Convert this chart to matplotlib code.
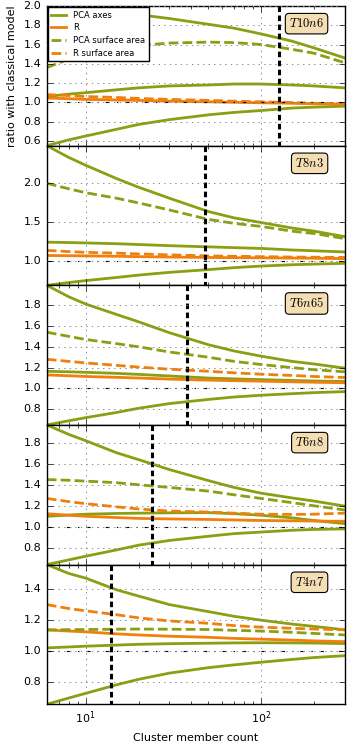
import numpy as np
import matplotlib
matplotlib.use('Agg')
import matplotlib.pyplot as plt
from matplotlib.ticker import MultipleLocator

plt.style.use('classic')
plt.rcParams['figure.facecolor'] = 'white'
plt.rcParams['savefig.facecolor'] = 'white'
plt.rcParams['font.size'] = 8
plt.rcParams['lines.scale_dashes'] = False

# cluster member count sample points
counts = [6, 8, 10, 15, 20, 30, 50, 70, 100, 150, 200, 300]

# one entry per panel: labels, vertical marker position
panel_labels = ['T10n6', 'T8n3', 'T6n65', 'T6n8', 'T4n7']
marker_counts = [127, 48, 38, 24, 14]

# PCA axes ratios (upper, middle, lower) per panel
pca_upper = [
    [2.00, 1.99, 1.98, 1.95, 1.91, 1.87, 1.81, 1.77, 1.71, 1.635, 1.565, 1.46],
    [2.47, 2.32, 2.22, 2.05, 1.94, 1.80, 1.63, 1.55, 1.49, 1.42, 1.38, 1.31],
    [1.99, 1.88, 1.81, 1.71, 1.64, 1.535, 1.42, 1.36, 1.31, 1.26, 1.235, 1.195],
    [1.97, 1.88, 1.82, 1.705, 1.64, 1.545, 1.44, 1.375, 1.32, 1.275, 1.245, 1.197],
    [1.557, 1.50, 1.47, 1.395, 1.355, 1.30, 1.255, 1.225, 1.20, 1.175, 1.16, 1.138],
]
pca_middle = [
    [1.06, 1.085, 1.10, 1.13, 1.15, 1.17, 1.18, 1.19, 1.19, 1.18, 1.17, 1.15],
    [1.24, 1.235, 1.23, 1.22, 1.21, 1.195, 1.18, 1.17, 1.16, 1.14, 1.13, 1.115],
    [1.165, 1.16, 1.155, 1.145, 1.135, 1.12, 1.10, 1.092, 1.085, 1.077, 1.072, 1.067],
    [1.10, 1.112, 1.12, 1.127, 1.13, 1.133, 1.135, 1.125, 1.11, 1.085, 1.06, 1.03],
    [1.022, 1.028, 1.033, 1.04, 1.045, 1.049, 1.052, 1.054, 1.055, 1.054, 1.053, 1.05],
]
pca_lower = [
    [0.55, 0.61, 0.65, 0.72, 0.77, 0.82, 0.87, 0.895, 0.915, 0.94, 0.95, 0.96],
    [0.69, 0.725, 0.75, 0.79, 0.82, 0.855, 0.89, 0.915, 0.935, 0.952, 0.96, 0.97],
    [0.65, 0.69, 0.72, 0.77, 0.81, 0.855, 0.895, 0.918, 0.935, 0.95, 0.96, 0.97],
    [0.64, 0.685, 0.72, 0.78, 0.825, 0.87, 0.91, 0.935, 0.95, 0.967, 0.975, 0.98],
    [0.66, 0.70, 0.73, 0.785, 0.82, 0.86, 0.895, 0.913, 0.93, 0.948, 0.96, 0.972],
]
# radius ratio
r_ratio = [
    [1.045, 1.037, 1.03, 1.024, 1.02, 1.012, 1.005, 1.0, 0.995, 0.99, 0.985, 0.98],
    [1.07, 1.067, 1.065, 1.06, 1.055, 1.05, 1.045, 1.042, 1.04, 1.037, 1.035, 1.03],
    [1.13, 1.122, 1.115, 1.107, 1.10, 1.09, 1.08, 1.075, 1.07, 1.064, 1.06, 1.055],
    [1.125, 1.11, 1.10, 1.088, 1.08, 1.075, 1.07, 1.065, 1.06, 1.057, 1.055, 1.052],
    [1.138, 1.13, 1.125, 1.112, 1.105, 1.097, 1.09, 1.083, 1.078, 1.072, 1.067, 1.062],
]
# surface area ratios
pca_area = [
    [1.36, 1.45, 1.50, 1.56, 1.59, 1.615, 1.625, 1.62, 1.60, 1.55, 1.51, 1.41],
    [1.99, 1.92, 1.87, 1.80, 1.74, 1.65, 1.53, 1.48, 1.44, 1.38, 1.35, 1.285],
    [1.54, 1.50, 1.47, 1.43, 1.40, 1.35, 1.30, 1.26, 1.23, 1.20, 1.18, 1.16],
    [1.45, 1.443, 1.435, 1.42, 1.40, 1.375, 1.34, 1.305, 1.27, 1.23, 1.20, 1.16],
    [1.137, 1.139, 1.14, 1.142, 1.143, 1.142, 1.14, 1.135, 1.13, 1.122, 1.115, 1.105],
]
r_area = [
    [1.08, 1.07, 1.06, 1.05, 1.04, 1.03, 1.02, 1.012, 1.005, 0.997, 0.99, 0.985],
    [1.135, 1.12, 1.11, 1.10, 1.09, 1.078, 1.065, 1.06, 1.055, 1.05, 1.048, 1.045],
    [1.28, 1.26, 1.245, 1.222, 1.205, 1.185, 1.165, 1.15, 1.137, 1.125, 1.115, 1.105],
    [1.27, 1.24, 1.22, 1.19, 1.17, 1.15, 1.14, 1.13, 1.12, 1.118, 1.12, 1.13],
    [1.30, 1.275, 1.26, 1.235, 1.215, 1.195, 1.18, 1.165, 1.155, 1.148, 1.143, 1.138],
]

green = '#8a9f12'
orange = '#f07f0c'
dash = (7, 3)

fig, axes = plt.subplots(5, 1, figsize=(3.6, 7.5), dpi=100, sharex=True)
fig.subplots_adjust(left=0.13, right=0.958, top=0.992, bottom=0.061, hspace=0)

for i, ax in enumerate(axes):
    ax.plot(counts, pca_upper[i], color=green, lw=2, label='PCA axes')
    ax.plot(counts, pca_middle[i], color=green, lw=2)
    ax.plot(counts, pca_lower[i], color=green, lw=2)
    ax.plot(counts, r_ratio[i], color=orange, lw=2, label='R')
    ax.plot(counts, pca_area[i], color=green, lw=2, dashes=dash, label='PCA surface area')
    ax.plot(counts, r_area[i], color=orange, lw=2, dashes=dash, label='R surface area')

    ax.axhline(1.0, color='k', ls='-.', lw=0.8)
    ax.plot([marker_counts[i]] * 2, [1, 0], transform=ax.get_xaxis_transform(),
            color='k', lw=2.2, dashes=(4, 2.5))

    ax.set_xscale('log')
    ax.set_xlim(6, 300)
    allv = pca_upper[i] + pca_lower[i]
    ax.set_ylim(min(allv), max(allv))
    ax.yaxis.set_major_locator(MultipleLocator(0.5 if i == 1 else 0.2))
    ax.grid(True, color='0.55', ls=':', lw=0.7)
    ax.tick_params(labelsize=8)

    ax.text(0.93, 0.92, '$' + panel_labels[i] + '$', transform=ax.transAxes,
            ha='right', va='top', fontsize=9,
            bbox=dict(boxstyle='round,pad=0.3', fc='wheat', ec='k', lw=0.8))

    if i == 0:
        ax.set_ylabel('ratio with classical model', fontsize=8)
        ax.legend(loc='upper left', fontsize=6, handlelength=1.8,
                  borderaxespad=0.15, labelspacing=0.45, numpoints=1)

axes[-1].set_xlabel('Cluster member count', fontsize=8)

fig.savefig('out.png', dpi=100)
